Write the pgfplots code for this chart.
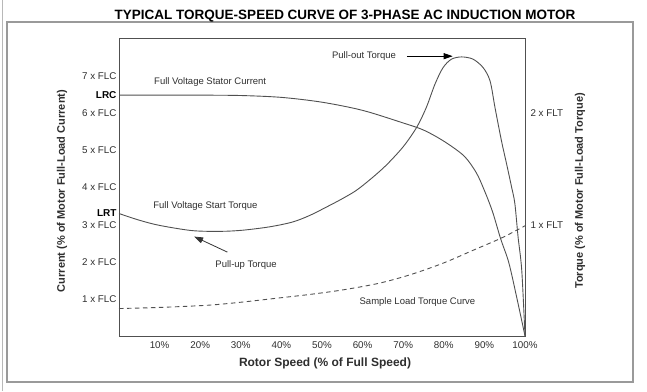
\documentclass[border=0pt]{standalone}
\usepackage{pgfplots}
\pgfplotsset{compat=1.18}
\usepackage{fontspec}
\setmainfont{Liberation Sans}
\usetikzlibrary{arrows.meta}
\definecolor{curve}{HTML}{505050}
\definecolor{frame}{HTML}{9A9A9A}
\definecolor{txt}{HTML}{2E2E2E}
\begin{document}
\begin{tikzpicture}
\path[use as bounding box] (0pt,0pt) rectangle (647pt,391pt);
\draw[frame, line width=1.6pt] (7pt,369pt) rectangle (633pt,9pt);
\draw[frame!70, line width=0.8pt] (2.5pt,0pt) -- (2.5pt,391pt);
\node[font=\bfseries\fontsize{13.5}{15}\selectfont, text=black] at (345pt,375pt) {TYPICAL TORQUE-SPEED CURVE OF 3-PHASE AC INDUCTION MOTOR};
\begin{axis}[at={(119pt,55pt)}, anchor=south west, width=406pt, height=298pt, scale only axis,
  xmin=0, xmax=100, ymin=0, ymax=8.03,
  axis line style={draw=curve, line width=0.9pt},
  major tick length=0pt,
  xtick={10,20,30,40,50,60,70,80,90,100},
  xticklabels={10\%,20\%,30\%,40\%,50\%,60\%,70\%,80\%,90\%,100\%},
  ytick={1,2,3,4,5,6,7},
  yticklabels={1 x FLC,2 x FLC,3 x FLC,4 x FLC,5 x FLC,6 x FLC,7 x FLC},
  extra y ticks={3.3,6.5},
  extra y tick labels={\textbf{LRT},\textbf{LRC}},
  extra y tick style={major tick length=0pt, yticklabel style={font=\fontsize{10}{12}\selectfont\bfseries, text=black}},
  tick label style={font=\fontsize{9.8}{11}\selectfont, text=txt},
  yticklabel style={xshift=1pt},
  xticklabel style={yshift=-2pt},
  clip=false]
\addplot[curve, line width=0.9pt, smooth] coordinates {
(0,6.49) (10,6.49) (20,6.49) (30,6.48) (40,6.43) (50,6.30) (60,6.08) (70,5.74) (75,5.55) (80,5.25) (85,4.85) (88,4.40) (90,3.92) (92,3.35) (94,2.62) (96,1.98) (98,1.02) (100,0)};
\addplot[curve, line width=0.9pt, smooth, tension=0.5] coordinates {
(0,3.30) (5,3.12) (10,2.98) (18,2.84) (25,2.82) (30.4,2.85) (37,2.94) (42.7,3.07) (47,3.25) (51.9,3.52) (55,3.70) (58.4,3.92) (62,4.23) (65.8,4.60) (70,5.10) (73.3,5.62) (75.7,6.16) (77.8,6.78) (79.8,7.23) (81.9,7.46) (84.4,7.52) (87.2,7.46) (89.7,7.23) (91.4,6.87) (92.6,6.16) (94.2,5.26) (95.5,4.62) (96.7,4.01) (97.5,3.57) (98.3,2.66) (99.2,1.77) (100,0)};
\addplot[curve, line width=0.9pt, dash pattern=on 4.5pt off 3.5pt, smooth] coordinates {
(0,0.74) (10,0.77) (22,0.83) (30,0.91) (39,1.02) (47,1.12) (55,1.24) (64,1.42) (72,1.66) (80,1.97) (87,2.30) (94,2.63) (98.3,2.87) (100,2.97)};
\node[anchor=west, font=\fontsize{9.5}{11}\selectfont, text=txt] at (axis cs:7.8,6.85) {Full Voltage Stator Current};
\node[anchor=west, font=\fontsize{9.5}{11}\selectfont, text=txt] at (axis cs:7.6,3.49) {Full Voltage Start Torque};
\node[font=\fontsize{9.5}{11}\selectfont, text=txt] at (axis cs:31.3,1.91) {Pull-up Torque};
\node[anchor=west, font=\fontsize{9.5}{11}\selectfont, text=txt] at (axis cs:51.6,7.55) {Pull-out Torque};
\node[anchor=west, font=\fontsize{9.5}{11}\selectfont, text=txt] at (axis cs:58.4,0.92) {Sample Load Torque Curve};
\draw[black, line width=0.8pt, -{Triangle[length=9pt,width=6pt]}] (axis cs:70.9,7.54) -- (axis cs:82.2,7.54);
\draw[line width=0.8pt, -{Triangle[length=9pt,width=6pt]}, black!80] (axis cs:26.7,2.26) -- (axis cs:18.5,2.68);
\end{axis}
\begin{axis}[at={(119pt,55pt)}, anchor=south west, width=406pt, height=298pt, scale only axis,
  xmin=0, xmax=100, ymin=0, ymax=2.677,
  axis x line=none, axis y line*=right,
  axis line style={draw=curve, line width=0.9pt, -},
  major tick length=0pt,
  ytick={1,2}, yticklabels={1 x FLT,2 x FLT},
  tick label style={font=\fontsize{9.8}{11}\selectfont, text=txt},
  yticklabel style={xshift=2pt}]
\end{axis}
\node[font=\bfseries\fontsize{12}{14}\selectfont, text=txt] at (325pt,28pt) {Rotor Speed (\% of Full Speed)};
\node[rotate=90, font=\bfseries\fontsize{11}{13}\selectfont, text=txt] at (62pt,200pt) {Current (\% of Motor Full-Load Current)};
\node[rotate=90, font=\bfseries\fontsize{11}{13}\selectfont, text=txt] at (580pt,200pt) {Torque (\% of Motor Full-Load Torque)};
\end{tikzpicture}
\end{document}
